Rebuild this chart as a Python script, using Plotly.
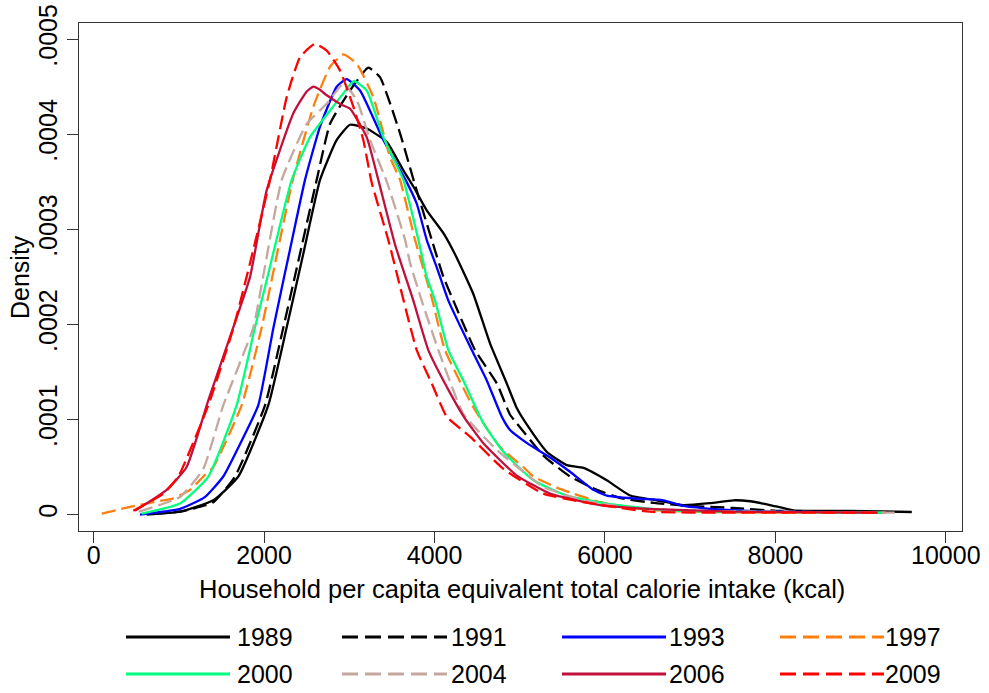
import plotly.graph_objects as go

years = ["1989", "1991", "1993", "1997", "2000", "2004", "2006", "2009"]
colors = ["#000000", "#000000", "#0000FF", "#FF7F0E", "#00FF7F", "#C4A8A0", "#C0103C", "#FF0000"]
dashes = ["solid", "dash", "solid", "dash", "solid", "dash", "solid", "dash"]

x_1989 = [622, 1013, 1404, 1697, 2049, 2265, 2399, 2469, 2656, 2852, 3008, 3204, 3439, 3634, 3751, 3908, 4104, 4250, 4455, 4651, 4847, 4965, 5080, 5317, 5551, 5747, 6021, 6295, 6608, 6920, 7233, 7507, 7703, 7938, 8211, 8877, 9601]
y_1989 = [0.0, 0.000003, 0.000015, 0.00004, 0.000115, 0.000197, 0.00025, 0.000278, 0.000352, 0.000394, 0.00041, 0.000406, 0.000392, 0.000362, 0.000345, 0.00032, 0.000296, 0.000272, 0.000232, 0.00018, 0.000138, 0.000112, 0.000095, 0.000066, 0.000052, 0.000049, 0.000036, 0.00002, 0.000015, 0.00001, 0.000012, 0.000015, 0.000014, 0.00001, 0.0000045, 0.0000038, 0.0000027]

x_1991 = [700, 1013, 1404, 1658, 2011, 2226, 2360, 2430, 2617, 2774, 3008, 3223, 3360, 3595, 3760, 3967, 4104, 4221, 4475, 4730, 4886, 4965, 5277, 5590, 5904, 6200, 6600, 7000, 7500, 8000, 8500, 9300]
y_1991 = [0.000001, 0.000003, 0.000013, 0.00004, 0.000115, 0.000197, 0.00025, 0.000278, 0.000352, 0.000411, 0.000446, 0.00047, 0.00046, 0.000401, 0.00035, 0.000289, 0.00025, 0.000225, 0.000173, 0.000138, 0.000105, 0.000096, 0.000062, 0.00004, 0.000026, 0.000017, 0.000012, 0.000009, 0.000007, 0.000004, 0.000003, 0.000002]

x_1993 = [543, 1013, 1300, 1521, 1750, 1932, 2108, 2235, 2302, 2480, 2656, 2852, 2969, 3126, 3399, 3660, 3791, 3908, 4026, 4162, 4437, 4613, 4789, 4886, 5121, 5356, 5590, 5864, 6021, 6334, 6686, 6920, 7233, 7504, 8000, 9300]
y_1993 = [0.0, 0.000006, 0.000018, 0.00004, 0.00008, 0.000115, 0.000196, 0.00025, 0.000278, 0.000352, 0.000408, 0.00045, 0.000458, 0.000446, 0.000394, 0.000352, 0.000327, 0.000289, 0.00026, 0.000225, 0.000173, 0.000141, 0.000103, 0.000089, 0.000073, 0.00006, 0.000045, 0.000026, 0.00002, 0.000017, 0.000015, 0.000009, 0.000006, 0.0000045, 0.000003, 0.000002]

x_1997 = [94, 426, 700, 934, 1130, 1287, 1404, 1737, 1972, 2096, 2336, 2578, 2774, 2930, 3087, 3282, 3478, 3595, 3771, 3967, 4123, 4455, 4769, 5042, 5160, 5473, 5943, 6500, 7000, 8000, 9300]
y_1997 = [0.000001, 0.000008, 0.000013, 0.000017, 0.000026, 0.00004, 0.00005, 0.000115, 0.000197, 0.00025, 0.000352, 0.000429, 0.000471, 0.000484, 0.000474, 0.000439, 0.000376, 0.000352, 0.000289, 0.000228, 0.000173, 0.000113, 0.000071, 0.00005, 0.00004, 0.000027, 0.000013, 0.000005, 0.000003, 0.000002, 0.000002]

x_2000 = [563, 1013, 1345, 1678, 1893, 2040, 2324, 2539, 2774, 2930, 3055, 3204, 3399, 3634, 3810, 3908, 4006, 4162, 4338, 4573, 4808, 5160, 5551, 6021, 6725, 7500, 9268]
y_2000 = [0.000001, 0.0000116, 0.00004, 0.000115, 0.000197, 0.00025, 0.000352, 0.000397, 0.000425, 0.000443, 0.000456, 0.000446, 0.000397, 0.000352, 0.000289, 0.00025, 0.000225, 0.000173, 0.000141, 0.000096, 0.000066, 0.000036, 0.00002, 0.0000116, 0.0000045, 0.000003, 0.000002]

x_2004 = [530, 1013, 1286, 1521, 1874, 1988, 2207, 2500, 2735, 2930, 3087, 3243, 3440, 3654, 3712, 3849, 4045, 4338, 4730, 5042, 5277, 5747, 6300, 7000, 8000, 9400]
y_2004 = [0.000003, 0.0000185, 0.000048, 0.000115, 0.000197, 0.00025, 0.000352, 0.000411, 0.000432, 0.000453, 0.000436, 0.000394, 0.00035, 0.000289, 0.000265, 0.000225, 0.000173, 0.000106, 0.000068, 0.000045, 0.000029, 0.000015, 0.000007, 0.000004, 0.000003, 0.000002]

x_2006 = [485, 857, 1091, 1345, 1650, 1835, 2030, 2343, 2500, 2578, 2650, 2735, 2910, 3008, 3204, 3340, 3536, 3751, 3927, 4182, 4350, 4573, 4965, 5356, 5943, 6500, 7500, 9200]
y_2006 = [0.000004, 0.000026, 0.00005, 0.00012, 0.0002, 0.00025, 0.000341, 0.000422, 0.000445, 0.00045, 0.000447, 0.000441, 0.000431, 0.000427, 0.000397, 0.000352, 0.000284, 0.000225, 0.000173, 0.000128, 0.000102, 0.000075, 0.000041, 0.000022, 0.00001, 0.000006, 0.000003, 0.000002]

x_2009 = [465, 817, 993, 1345, 1639, 1850, 2069, 2265, 2421, 2597, 2735, 2891, 3047, 3164, 3260, 3460, 3595, 3791, 3967, 4143, 4417, 4808, 5277, 5747, 6529, 7500, 8500, 9190]
y_2009 = [0.000004, 0.000022, 0.00004, 0.000115, 0.000196, 0.00027, 0.000352, 0.000439, 0.000481, 0.000495, 0.000488, 0.000467, 0.000429, 0.000394, 0.00035, 0.000288, 0.00024, 0.000173, 0.000138, 0.000103, 0.000082, 0.000048, 0.000022, 0.000013, 0.000003, 0.000002, 0.000002, 0.000002]

xs = [x_1989, x_1991, x_1993, x_1997, x_2000, x_2004, x_2006, x_2009]
ys = [y_1989, y_1991, y_1993, y_1997, y_2000, y_2004, y_2006, y_2009]

x_ticks = [0, 2000, 4000, 6000, 8000, 10000]
x_ticklabels = ["0", "2000", "4000", "6000", "8000", "10000"]
y_ticks = [0, 0.0001, 0.0002, 0.0003, 0.0004, 0.0005]
y_ticklabels = ["0", ".0001", ".0002", ".0003", ".0004", ".0005"]
x_title = "Household per capita equivalent total calorie intake (kcal)"
y_title = "Density"

FONT = "Liberation Sans, Arial, sans-serif"
FS = 25

fig = go.Figure()
for yr, c, d, x, y in zip(years, colors, dashes, xs, ys):
    fig.add_trace(go.Scatter(
        x=x, y=y, mode="lines", name=yr,
        line=dict(color=c, width=2.3, dash=("14px,6px" if d == "dash" else "solid"),
                  shape="spline", smoothing=0.45),
        showlegend=False))

# page body margin is removed by post_script, so screenshot pixels == figure pixels
W, H = 989, 693
L, R, T, B = 79, 962, 23, 531
pw, ph = R - L, B - T

def px2paper(px, py):
    return (px - L) / pw, (B - py) / ph

# axis titles as annotations for exact placement
tx, ty = px2paper(522, 589)
fig.add_annotation(xref="paper", yref="paper", x=tx, y=ty, text=x_title, showarrow=False,
                   xanchor="center", yanchor="middle", borderpad=0,
                   font=dict(family=FONT, size=25.5, color="#000"))
tx, ty = px2paper(20, 277)
fig.add_annotation(xref="paper", yref="paper", x=tx, y=ty, text=y_title, showarrow=False,
                   textangle=-90, xanchor="center", yanchor="middle", borderpad=0,
                   font=dict(family=FONT, size=FS, color="#000"))

# custom legend (2 rows x 4 columns), positions in pixels
col_line = [(126, 230), (342, 447), (562, 666), (780, 884)]
col_text = [236, 450, 668, 884]
row_y = [637, 674]
for i, (yr, c, d) in enumerate(zip(years, colors, dashes)):
    r, col = divmod(i, 4)
    x0, yy = px2paper(col_line[col][0], row_y[r])
    x1, _ = px2paper(col_line[col][1], row_y[r])
    fig.add_shape(type="line", xref="paper", yref="paper", x0=x0, x1=x1, y0=yy, y1=yy,
                  line=dict(color=c, width=3.2, dash=("16px,7px" if d == "dash" else "solid")))
    tx, _ = px2paper(col_text[col], row_y[r])
    fig.add_annotation(xref="paper", yref="paper", x=tx, y=yy, text=yr, showarrow=False,
                       xanchor="left", yanchor="middle", borderpad=0,
                       font=dict(family=FONT, size=FS, color="#000"))

axis_common = dict(showline=True, linecolor="#333333", linewidth=1.3, mirror=True,
                   ticks="outside", ticklen=11, tickwidth=1.3, tickcolor="#333333",
                   showgrid=False, zeroline=False, automargin=False,
                   ticklabeloverflow="allow",
                   tickfont=dict(family=FONT, size=FS, color="#000"))

fig.update_layout(
    template="none",
    width=W, height=H,
    margin=dict(l=L, r=W - R, t=T, b=H - B, pad=0),
    paper_bgcolor="white", plot_bgcolor="white",
    xaxis=dict(range=[-172.5, 10190], tickvals=x_ticks, ticktext=x_ticklabels,
               ticklabelstandoff=-9, **axis_common),
    yaxis=dict(range=[-0.0000173, 0.000517], tickvals=y_ticks, ticktext=y_ticklabels,
               tickangle=-90, **axis_common),
)

fig.write_html("out.html", config={"displayModeBar": False},
               post_script="document.body.style.margin='0px';document.body.style.padding='0px';")
